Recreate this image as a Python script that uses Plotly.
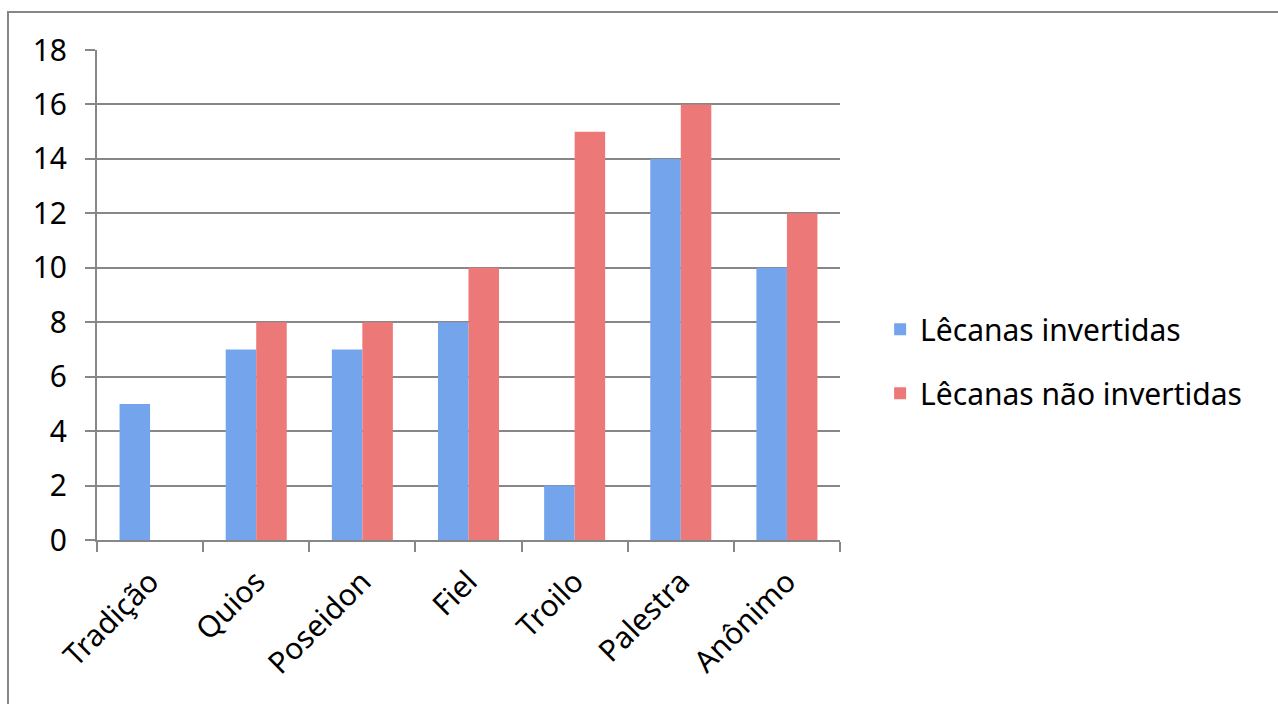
import plotly.graph_objects as go

categories = ["Tradição", "Quios", "Poseidon", "Fiel", "Troilo", "Palestra", "Anônimo"]
invertidas = [5, 7, 7, 8, 2, 14, 10]
nao_invertidas = [None, 8, 8, 10, 15, 16, 12]
series_names = ["Lêcanas invertidas", "Lêcanas não invertidas"]
y_ticks = [0, 2, 4, 6, 8, 10, 12, 14, 16, 18]

FONT = "Noto Sans"
FS = 30
GRAY = "#878787"

fig = go.Figure()
fig.add_trace(go.Bar(
    x=categories, y=invertidas, name=series_names[0],
    marker=dict(color="#74A5EC", line=dict(width=0)),
    legendgroup="a",
))
fig.add_trace(go.Bar(
    x=categories, y=nao_invertidas, name=series_names[1],
    marker=dict(color="#EC7878", line=dict(width=0)),
    legendgroup="b",
))

fig.update_layout(
    width=1278, height=704,
    margin=dict(l=97, r=438, t=50, b=164),
    paper_bgcolor="white", plot_bgcolor="white",
    font=dict(family=FONT, size=FS, color="black"),
    barmode="group", bargap=0.425, bargroupgap=0,
    showlegend=True,
    legend=dict(
        x=1.054, y=0.365, xanchor="left", yanchor="middle",
        font=dict(family=FONT, size=FS, color="black"),
        tracegroupgap=22, itemwidth=30,
        bgcolor="rgba(0,0,0,0)",
    ),
    xaxis=dict(
        type="category", showgrid=False,
        showline=True, linecolor=GRAY, linewidth=2,
        ticks="outside", tickson="boundaries", ticklen=10, tickcolor=GRAY, tickwidth=2,
        tickangle=-45, tickfont=dict(family=FONT, size=FS, color="black"),
        ticklabelstandoff=10,
    ),
    yaxis=dict(
        range=[0, 18], tickvals=y_ticks,
        showgrid=True, gridcolor=GRAY, gridwidth=2,
        showline=True, linecolor=GRAY, linewidth=2,
        ticks="outside", ticklen=10, tickcolor=GRAY, tickwidth=2,
        tickfont=dict(family=FONT, size=FS, color="black"),
        ticklabelstandoff=12,
        zeroline=False,
    ),
    shapes=[dict(
        type="rect", xref="paper", yref="paper",
        x0=-0.1198, x1=2.0, y0=-1.0, y1=1.0776,
        line=dict(color=GRAY, width=2), fillcolor="rgba(0,0,0,0)", layer="below",
    )],
)

fig.write_html("out.html")
